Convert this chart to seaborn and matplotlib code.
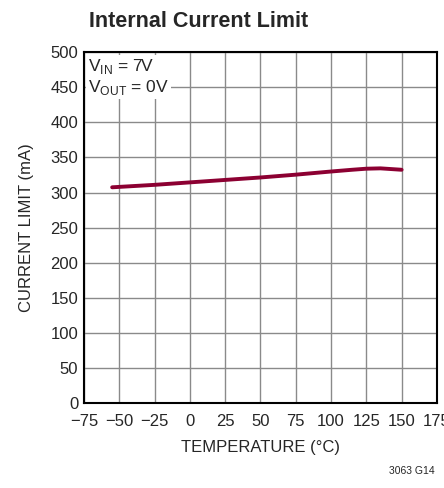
import numpy as np
import pandas as pd
import seaborn as sns
import matplotlib.pyplot as plt

# values
temperature = [-55, -25, 0, 25, 50, 75, 100, 115, 125, 135, 150]
current_limit = [307.5, 311, 314.5, 318, 321.5, 325.5, 330, 332.5, 334, 334.5, 332.5]
x_ticks = [-75, -50, -25, 0, 25, 50, 75, 100, 125, 150, 175]
x_labels = ['\u221275', '\u221250', '\u221225', '0', '25', '50', '75', '100', '125', '150', '175']
y_ticks = list(range(0, 501, 50))

df = pd.DataFrame({'temp': temperature, 'ilim': current_limit})

sns.set_style('white')
plt.rcParams['font.family'] = ['Liberation Sans', 'DejaVu Sans']

fig = plt.figure(figsize=(4.44, 4.88), dpi=100)
ax = fig.add_axes([0.189, 0.174, 0.795, 0.719])

sns.lineplot(data=df, x='temp', y='ilim', color='#8c0032', linewidth=2.8, ax=ax)

ax.set_xlim(-75, 175)
ax.set_ylim(0, 500)
ax.set_xticks(x_ticks)
ax.set_xticklabels(x_labels)
ax.set_yticks(y_ticks)
ax.tick_params(labelsize=12, length=0)
ax.tick_params(axis='x', pad=8)
ax.tick_params(axis='y', pad=4)
ax.grid(True, color='#8a8a8a', linewidth=1)
for s in ax.spines.values():
    s.set_color('black')
    s.set_linewidth(1.5)

ax.set_xlabel('TEMPERATURE (\u00b0C)', fontsize=12, labelpad=8)
ax.set_ylabel('CURRENT LIMIT (mA)', fontsize=12, labelpad=12)

ax.text(0.012, 0.985, 'V$_{\\mathregular{IN}}$ = 7V\nV$_{\\mathregular{OUT}}$ = 0V',
        transform=ax.transAxes, fontsize=12.5, va='top', ha='left', linespacing=1.1,
        bbox=dict(facecolor='white', edgecolor='none', pad=1.5))

fig.text(0.2, 0.955, 'Internal Current Limit', fontsize=15.5, fontweight='bold', ha='left', va='center')
fig.text(0.98, 0.035, '3063 G14', fontsize=7.5, ha='right', va='center')

fig.savefig('out.png', dpi=100)
